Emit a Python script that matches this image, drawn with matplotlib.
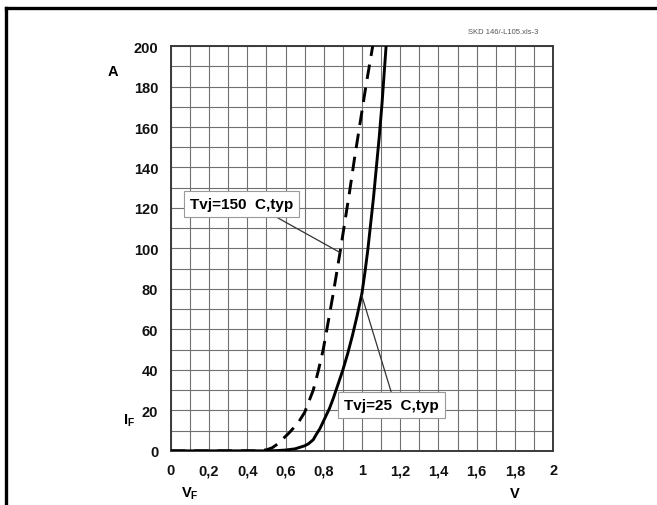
import matplotlib
matplotlib.use("Agg")
import matplotlib.pyplot as plt
from matplotlib.lines import Line2D

plt.rcParams['font.family'] = ['Liberation Sans', 'DejaVu Sans']

# Forward characteristic I_F = f(V_F), Tvj = 25 C
vf_25 = [0.0, 0.30, 0.50, 0.55, 0.60, 0.65, 0.70, 0.72, 0.745, 0.76, 0.78,
         0.80, 0.83, 0.85, 0.875, 0.90, 0.925, 0.95, 0.975,
         1.00, 1.015, 1.03, 1.045, 1.06, 1.075, 1.09, 1.105, 1.126]
if_25 = [0, 0, 0, 0.1, 0.4, 1.0, 2.5, 3.5, 5.5, 8, 11,
         15, 21, 26, 33, 40, 48, 57, 67,
         78, 88, 99, 112, 125, 140, 155, 172, 200]

# Forward characteristic I_F = f(V_F), Tvj = 150 C
vf_150 = [0.0, 0.30, 0.45, 0.50, 0.53, 0.56, 0.587, 0.62, 0.667, 0.70,
          0.745, 0.77, 0.797, 0.82, 0.85, 0.885, 0.91, 0.935, 0.96, 0.99,
          1.02, 1.056]
if_150 = [0, 0, 0, 0.5, 1.5, 3.5, 6, 9, 14, 19,
          30, 39, 50, 62, 78, 98, 113, 128, 144, 162,
          180, 200]

x_ticks = [0, 0.2, 0.4, 0.6, 0.8, 1.0, 1.2, 1.4, 1.6, 1.8, 2.0]
x_labels = ["0", "0,2", "0,4", "0,6", "0,8", "1", "1,2", "1,4", "1,6", "1,8", "2"]
y_ticks = [0, 20, 40, 60, 80, 100, 120, 140, 160, 180, 200]

fig = plt.figure(figsize=(6.57, 5.06), dpi=100)
ax = fig.add_axes([0.260, 0.107, 0.582, 0.800])
ax.set_xlim(0, 2)
ax.set_ylim(0, 200)

# fine grid
for i in range(21):
    ax.axvline(i * 0.1, color="#707070", lw=0.8, zorder=1)
for j in range(21):
    ax.axhline(j * 10, color="#707070", lw=0.8, zorder=1)

ax.plot(vf_150, if_150, color="black", lw=2.1, ls=(0, (5, 3)), zorder=3,
        solid_capstyle="butt", solid_joinstyle="round")
ax.plot(vf_25, if_25, color="black", lw=2.1, zorder=3,
        solid_joinstyle="round")

ax.set_xticks(x_ticks)
ax.set_xticklabels(x_labels)
ax.set_yticks(y_ticks)
ax.tick_params(length=0, labelsize=10.5)
for lab in ax.get_xticklabels() + ax.get_yticklabels():
    lab.set_fontweight("bold")
    lab.set_color("#111111")
ax.tick_params(axis="x", pad=9)
ax.tick_params(axis="y", pad=9)

for s in ax.spines.values():
    s.set_color("#3a3a3a")
    s.set_linewidth(1.4)

bbox = dict(boxstyle="square,pad=0.4", fc="white", ec="#9a9a9a", lw=0.8)
ax.annotate("Tvj=150  C,typ", xy=(0.885, 98), xytext=(0.10, 122),
            fontsize=11, fontweight="bold", bbox=bbox, va="center", ha="left",
            arrowprops=dict(arrowstyle="-", color="#333333", lw=0.9,
                            shrinkA=0, shrinkB=0, relpos=(0.73, 0.0)),
            zorder=4)
ax.annotate("Tvj=25  C,typ", xy=(0.998, 77), xytext=(0.905, 22.5),
            fontsize=11, fontweight="bold", bbox=bbox, va="center", ha="left",
            arrowprops=dict(arrowstyle="-", color="#333333", lw=0.9,
                            shrinkA=0, shrinkB=0, relpos=(0.52, 1.0)),
            zorder=4)

# axis symbols and units
fig.text(113 / 657, 1 - 72 / 506, "A", fontsize=10.5, fontweight="bold",
         ha="center", va="center")
fig.text(129 / 657, 1 - 421 / 506, r"I$_\mathregular{F}$", fontsize=10.5,
         fontweight="bold", ha="center", va="center")
fig.text(190 / 657, 1 - 494 / 506, r"V$_\mathregular{F}$", fontsize=10.5,
         fontweight="bold", ha="center", va="center")
fig.text(515 / 657, 1 - 494 / 506, "V", fontsize=10.5, fontweight="bold",
         ha="center", va="center")
fig.text(503 / 657, 1 - 33 / 506, "SKD 146/-L105.xls-3", fontsize=5.5,
         color="#555555", ha="center", va="center")

# outer frame (top and left edges)
fig.add_artist(Line2D([5.5 / 657, 1.0], [1 - 8.5 / 506, 1 - 8.5 / 506],
                      color="black", lw=2.4, transform=fig.transFigure))
fig.add_artist(Line2D([5.5 / 657, 5.5 / 657], [0.0, 1 - 8.5 / 506],
                      color="black", lw=2.4, transform=fig.transFigure))

fig.savefig("out.png", dpi=100)
